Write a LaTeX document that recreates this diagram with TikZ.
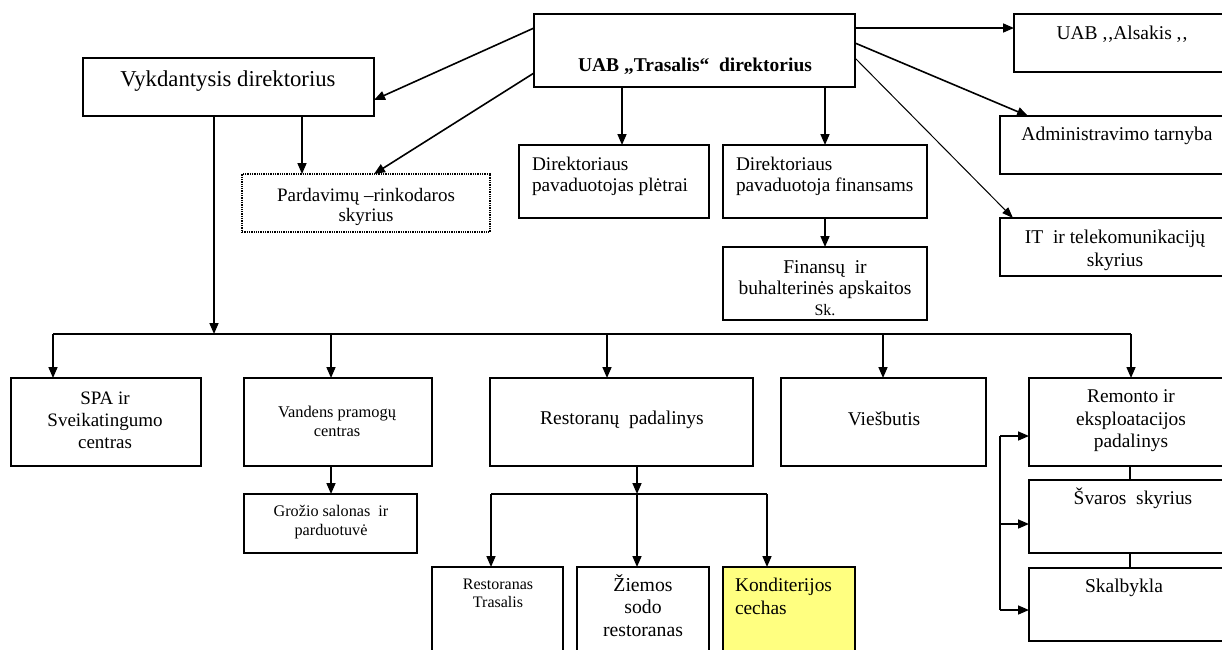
\documentclass[tikz,border=0pt]{standalone}
\usepackage{fontspec}
\setmainfont{Liberation Serif}
\usetikzlibrary{arrows.meta,calc}
\definecolor{konyellow}{HTML}{FFFF80}
\tikzset{
  box/.style={draw=black,line width=1.3pt,inner sep=0pt,outer sep=0pt,fill=white},
  dotbox/.style={box,densely dotted},
  yellowbox/.style={box,fill=konyellow},
  lbl/.style={inner sep=0pt,outer sep=0pt,align=center,font=\fontsize{19.5}{23}\selectfont},
  lbll/.style={lbl,align=left},
  arr/.style={line width=1.6pt,-{Triangle[length=11pt,width=9pt]}},
  thinarr/.style={line width=1pt,-{Triangle[length=11pt,width=8pt]}},
  ln/.style={line width=1.6pt},
}
\newcommand\boxnode[6]{\node[#6,minimum width={(#4-#2)*1pt},minimum height={(#5-#3)*1pt}] (#1) at ({(#2+#4)/2},{(#3+#5)/2}) {};}
\begin{document}
\begin{tikzpicture}[x=1pt,y=-1pt]
\useasboundingbox[fill=white] (0,0) rectangle (1222,649);
% boxes
\boxnode{vyk}{83}{58}{374}{116}{box}
\boxnode{uab}{534}{14}{855}{87}{box}
\boxnode{par}{242}{174}{490}{232}{dotbox}
\boxnode{ple}{519}{145}{709}{218}{box}
\boxnode{fin}{723}{145}{927}{218}{box}
\boxnode{fsk}{723}{247}{927}{320}{box}
\boxnode{als}{1014}{14}{1240}{72}{box}
\boxnode{adm}{1000}{116}{1240}{174}{box}
\boxnode{it}{1000}{218}{1240}{276}{box}
\boxnode{spa}{11}{378}{201}{466}{box}
\boxnode{van}{244}{378}{432}{466}{box}
\boxnode{res}{490}{378}{753}{466}{box}
\boxnode{vie}{781}{378}{986}{466}{box}
\boxnode{rem}{1029}{378}{1240}{466}{box}
\boxnode{gro}{244}{494}{417}{553}{box}
\boxnode{rtr}{432}{567}{563}{670}{box}
\boxnode{zie}{577}{567}{709}{670}{box}
\boxnode{kon}{723}{567}{855}{670}{yellowbox}
\boxnode{sva}{1029}{480}{1240}{553}{box}
\boxnode{ska}{1029}{568}{1240}{641}{box}
% texts
\node[lbl,anchor=base,font=\fontsize{22.7}{26}\selectfont] (tvyk) at (228,86) {Vykdantysis direktorius};
\node[lbl,anchor=base,font=\bfseries\fontsize{19.5}{23}\selectfont] (tuab) at (695,71) {UAB „Trasalis“~ direktorius};
\node[lbl,font=\fontsize{19}{19.5}\selectfont] (tpar) at (366,207) {Pardavimų –rinkodaros\\skyrius};
\node[lbll,anchor=west,font=\fontsize{19.3}{21}\selectfont] (tple) at (532,176) {Direktoriaus\\pavaduotojas plėtrai};
\node[lbll,anchor=west,font=\fontsize{19.3}{21}\selectfont] (tfin) at (736,176) {Direktoriaus\\pavaduotoja finansams};
\node[lbl,font=\fontsize{19.5}{21.5}\selectfont] (tfsk) at (825,288) {Finansų~ ir\\buhalterinės apskaitos\\[-1pt]{\fontsize{16}{18}\selectfont Sk.}};
\node[lbl,anchor=base,font=\fontsize{19.5}{23}\selectfont] (tals) at (1122,39) {UAB ,\kern1pt,Alsakis ,\kern1pt,};
\node[lbl,anchor=base,font=\fontsize{19.5}{23}\selectfont] (tadm) at (1117,140.5) {Administravimo tarnyba};
\node[lbl,font=\fontsize{19.5}{23}\selectfont] (tit) at (1115,250.5) {IT~ ir telekomunikacijų\\skyrius};
\node[lbl,font=\fontsize{19}{22}\selectfont] (tspa) at (105,420) {SPA ir\\Sveikatingumo\\centras};
\node[lbl,font=\fontsize{16.4}{19.5}\selectfont] (tvan) at (337,421.5) {Vandens pramogų\\centras};
\node[lbl,anchor=base,font=\fontsize{19.5}{23}\selectfont] (tres) at (622,424.5) {Restoranų~ padalinys};
\node[lbl,anchor=base,font=\fontsize{19.5}{23}\selectfont] (tvie) at (884,425) {Viešbutis};
\node[lbl,font=\fontsize{19.4}{22.5}\selectfont] (trem) at (1131,421) {Remonto ir\\eksploatacijos\\padalinys};
\node[lbl,font=\fontsize{16.2}{19.5}\selectfont] (tgro) at (331,522) {Grožio salonas~ ir\\parduotuvė};
\node[lbl,font=\fontsize{16}{18}\selectfont] (trtr) at (498,593) {Restoranas\\Trasalis};
\node[lbl,font=\fontsize{19.7}{22.5}\selectfont] (tzie) at (643,605.5) {Žiemos\\sodo\\restoranas};
\node[lbll,anchor=west,font=\fontsize{19.4}{23}\selectfont] (tkon) at (735,596) {Konditerijos\\cechas};
\node[lbl,anchor=base,font=\fontsize{19.4}{23}\selectfont] (tsva) at (1133,504) {Švaros~ skyrius};
\node[lbl,anchor=base,font=\fontsize{19.5}{23}\selectfont] (tska) at (1124,592) {Skalbykla};
% coordinates
\coordinate (bus) at (214,334);
\coordinate (busL) at (53,334);
\coordinate (busR) at (1131,334);
\coordinate (rbus) at (637,494);
\coordinate (rbusL) at (491,494);
\coordinate (rbusR) at (767,494);
\coordinate (brT) at (1000,436);
\coordinate (brM) at (1000,524);
\coordinate (brB) at (1000,610);
% connectors from top director
\draw[arr] (uab.west |- 0,28) -- (vyk.east |- 0,100);
\draw[arr] (uab.west |- 0,73) -- (par.north -| 374,0);
\draw[arr] (uab.south -| 622,0) -- (ple.north -| 622,0);
\draw[arr] (uab.south -| 825,0) -- (fin.north -| 825,0);
\draw[arr] (fin.south -| 825,0) -- (fsk.north -| 825,0);
\draw[arr] (uab.east |- 0,28) -- (als.west |- 0,28);
\draw[arr] (uab.east |- 0,43) -- (adm.north -| 1028,0);
\draw[thinarr] (uab.east |- 0,58) -- (it.north -| 1013,0);
% executive director
\draw[arr] (vyk.south -| 302,0) -- (par.north -| 302,0);
\draw[arr] (vyk.south -| bus) -- (bus);
\draw[ln] (busL) -- (busR);
\draw[arr] (busL) -- (spa.north -| busL);
\draw[arr] (331,334) -- (van.north -| 331,0);
\draw[arr] (607,334) -- (res.north -| 607,0);
\draw[arr] (883,334) -- (vie.north -| 883,0);
\draw[arr] (busR) -- (rem.north -| busR);
\draw[arr] (van.south -| 331,0) -- (gro.north -| 331,0);
% restaurants
\draw[arr] (res.south -| rbus) -- (rbus);
\draw[ln] (rbusL) -- (rbusR);
\draw[arr] (rbusL) -- (rtr.north -| rbusL);
\draw[arr] (rbus) -- (zie.north -| rbus);
\draw[arr] (rbusR) -- (kon.north -| rbusR);
% maintenance
\draw[line width=1.3pt] (rem.south -| 1130,0) -- (sva.north -| 1130,0);
\draw[line width=1.3pt] (sva.south -| 1130,0) -- (ska.north -| 1130,0);
\draw[ln] (brT) -- (brB);
\draw[arr] (brT) -- (rem.west |- brT);
\draw[arr] (brM) -- (sva.west |- brM);
\draw[arr] (brB) -- (ska.west |- brB);
\end{tikzpicture}
\end{document}
